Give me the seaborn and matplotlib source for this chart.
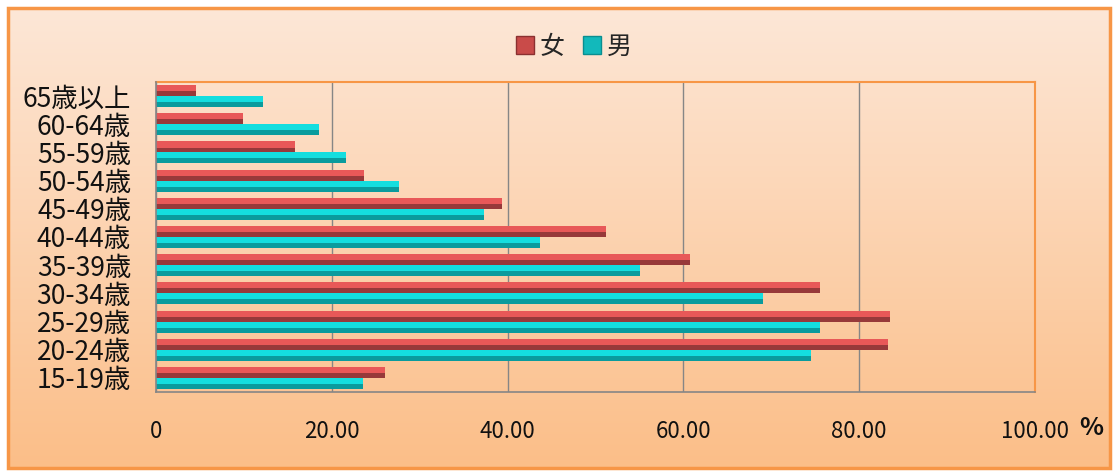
import matplotlib
matplotlib.use("Agg")
import matplotlib.pyplot as plt
import seaborn as sns
import numpy as np
import pandas as pd
from matplotlib.patches import Rectangle
from matplotlib.lines import Line2D
from matplotlib.colors import LinearSegmentedColormap

# data (top to bottom as in the chart)
ages = ["65歳以上", "60-64歳", "55-59歳", "50-54歳", "45-49歳", "40-44歳",
        "35-39歳", "30-34歳", "25-29歳", "20-24歳", "15-19歳"]
female = [4.5, 9.9, 15.8, 23.7, 39.4, 51.2, 60.7, 75.5, 83.5, 83.3, 26.1]
male = [12.2, 18.5, 21.6, 27.6, 37.3, 43.7, 55.1, 69.1, 75.5, 74.5, 23.5]
sexes = ["女", "男"]
xticks = [0, 20, 40, 60, 80, 100]
xlabels = ["0", "20.00", "40.00", "60.00", "80.00", "100.00"]

sns.set_style("white")
plt.rcParams["font.family"] = ["Noto Sans CJK TC", "DejaVu Sans"]

# dark base colours, bright upper half drawn on top
red = "#97393A"
cyan = "#0A9B9D"
red_hi = "#E85858"
cyan_hi = "#14DEDF"

df = pd.DataFrame({
    "age": ages * 2,
    "sex": [sexes[0]] * len(ages) + [sexes[1]] * len(ages),
    "value": female + male,
})

fig = plt.figure(figsize=(11.14, 4.72), dpi=100)
fig.patch.set_facecolor("white")

# background gradient + orange frame
bg = fig.add_axes([0, 0, 1, 1], zorder=-2)
grad = np.linspace(0, 1, 256).reshape(-1, 1)
cmap = LinearSegmentedColormap.from_list("peach", ["#FDE7D7", "#FBBE88"])
x0, y0, x1, y1 = 8 / 1114, 4 / 472, 1110 / 1114, 464 / 472
bg.imshow(grad, aspect="auto", cmap=cmap, extent=[x0, x1, y0, y1], origin="upper")
bg.add_patch(Rectangle((x0, y0), x1 - x0, y1 - y0, fill=False,
                       edgecolor="#F79646", lw=2.5))
bg.set_xlim(0, 1)
bg.set_ylim(0, 1)
bg.axis("off")

ax = fig.add_axes([156 / 1114, 1 - 392 / 472, (1035 - 156) / 1114, (392 - 82) / 472])
ax.set_facecolor("none")

sns.barplot(data=df, y="age", x="value", hue="sex", order=ages, hue_order=sexes,
            palette=[red, cyan], width=0.78, saturation=1, legend=False, ax=ax,
            linewidth=0, zorder=3)

# bright upper part on each bar for a rounded look
for i, p in enumerate(list(ax.patches)):
    hi = red_hi if i < len(ages) else cyan_hi
    x, y = p.get_x(), p.get_y()
    w, h = p.get_width(), p.get_height()
    ax.add_patch(Rectangle((x, y), w, h * 0.55, color=hi, lw=0, zorder=4))

ax.set_xlim(0, 100)
ax.set_ylim(len(ages) - 0.5, -0.5)
ax.set_xticks(xticks)
ax.set_xticklabels(xlabels, fontsize=16, color="#111111")
ax.set_yticks(range(len(ages)))
ax.set_yticklabels(ages, fontsize=19, color="#111111")
ax.set_yticks(np.arange(-0.5, len(ages), 1), minor=True)
ax.tick_params(axis="y", which="major", length=0, pad=18)
ax.tick_params(axis="y", which="minor", length=6, color="#868686", width=1)
ax.tick_params(axis="x", which="major", length=6, color="#868686", width=1, pad=14)
ax.set_xlabel("")
ax.set_ylabel("")
ax.grid(axis="x", color="#868686", lw=1, zorder=0)
ax.grid(axis="y", visible=False)

for s in ["top", "right"]:
    ax.spines[s].set_color("#F79646")
    ax.spines[s].set_linewidth(1.5)
for s in ["left", "bottom"]:
    ax.spines[s].set_color("#868686")
    ax.spines[s].set_linewidth(1.2)
    ax.spines[s].set_zorder(5)

fig.text(1091 / 1114, 1 - 428 / 472, "%", fontsize=18, fontweight="bold",
         ha="center", va="center", color="#111111")

handles = [Line2D([], [], marker="s", ls="", markersize=13, color=c,
                  markeredgecolor=e) for c, e in [("#C94B49", "#8B3030"), ("#12B9BB", "#0A8E90")]]
fig.legend(handles, sexes, loc="center", bbox_to_anchor=(572 / 1114, 1 - 47 / 472),
           ncol=2, frameon=False, fontsize=18, handletextpad=0.1,
           columnspacing=0.6, handlelength=1.0)

fig.savefig("out.png", dpi=100)
